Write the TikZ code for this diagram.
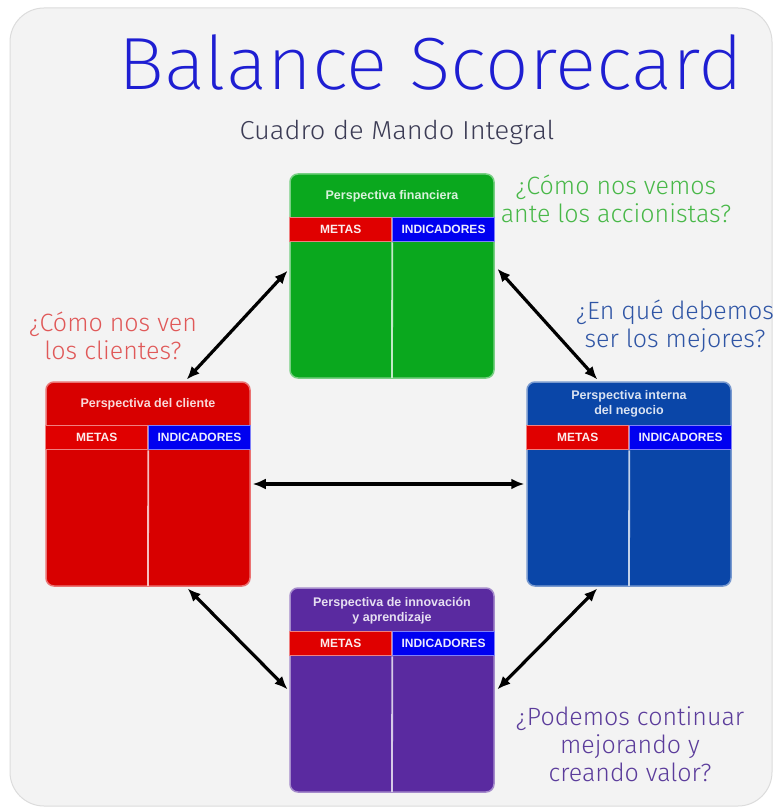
\documentclass[tikz,border=0pt]{standalone}
\usepackage{fontspec}
\setmainfont{Liberation Sans}
\newfontfamily\lightfont{Fira Sans Light}
\newfontfamily\xlightfont{Fira Sans ExtraLight}
\usetikzlibrary{arrows.meta,calc}
\definecolor{bg}{HTML}{F3F3F3}
\definecolor{bgline}{HTML}{DCDCDC}
\definecolor{grn}{HTML}{0AA81E}
\definecolor{red0}{HTML}{D80000}
\definecolor{blu}{HTML}{0A46A8}
\definecolor{pur}{HTML}{5A2AA0}
\definecolor{metas}{HTML}{E00000}
\definecolor{indic}{HTML}{0000F0}
\definecolor{ttl}{HTML}{1E1ED2}
\definecolor{sub}{HTML}{3C3C55}
\definecolor{qgrn}{HTML}{48B848}
\definecolor{qblu}{HTML}{2F55A5}
\definecolor{qred}{HTML}{E05858}
\definecolor{qpur}{HTML}{5B3C9B}
\tikzset{
  pbox/.style={draw=#1!55!white, line width=1.5pt, fill=#1, rounded corners=8pt,
    minimum width=204pt, minimum height=204pt, inner sep=0pt},
  ptitle/.style={text=#1!15!white, font=\bfseries\fontsize{12.5}{15}\selectfont, align=center},
  metasbox/.style={draw=metas!50!white, line width=1pt, fill=metas, text=white!92!metas,
    font=\bfseries\fontsize{12}{12}\selectfont, minimum width=102pt, minimum height=24pt, inner sep=0pt, anchor=north west},
  indicbox/.style={draw=indic!50!white, line width=1pt, fill=indic, text=white!92!indic,
    font=\bfseries\fontsize{12}{12}\selectfont, minimum width=102pt, minimum height=24pt, inner sep=0pt, anchor=north west},
  divider/.style={draw=#1!25!white, line width=1.8pt},
  link/.style={{Latex[length=13pt,width=11pt]}-{Latex[length=13pt,width=11pt]}, line width=3.2pt, black},
  question/.style={font=\lightfont\fontsize{25}{28}\selectfont, align=center, text=#1}
}
\newcommand\scbox[4]{%
  \node[pbox=#3] (#1) at (#2) {};
  \node[ptitle=#3] (#1t) at ($(#1.north)+(0,23)$) {#4};
  \node[metasbox] (#1m) at ($(#1.north west)+(0,44)$) {METAS};
  \node[indicbox] (#1i) at ($(#1.north)+(0,44)$) {INDICADORES};
  \draw[divider=#3] (#1m.south east) -- ($(#1.south)+(0,-1)$);
}
\begin{document}
\begin{tikzpicture}[x=1pt,y=-1pt]
\useasboundingbox (0,0) rectangle (776,810);
\fill[white] (0,0) rectangle (776,810);
\draw[draw=bgline, fill=bg, line width=1pt, rounded corners=34pt] (10,8) rectangle (772,806);

\node[font=\xlightfont\fontsize{74}{80}\selectfont, text=ttl, xscale=1.04] (title) at (431,62) {Balance Scorecard};
\node[font=\lightfont\fontsize{26}{30}\selectfont, text=sub, xscale=1.05] (subtitle) at (397,133) {Cuadro de Mando Integral};

\scbox{fin}{392,276}{grn}{Perspectiva financiera}
\scbox{cli}{148,484}{red0}{Perspectiva del cliente}
\scbox{neg}{629,484}{blu}{Perspectiva interna\\del negocio}
\scbox{inn}{392,690}{pur}{Perspectiva de innovaci\'on\\y aprendizaje}

\node[question=qgrn] (qfin) at (616,199) {¿Cómo nos vemos\\ante los accionistas?};
\node[question=qblu] (qneg) at (675,326) {¿En qué debemos\\ser los mejores?};
\node[question=qred] (qcli) at (113,336) {¿Cómo nos ven\\los clientes?};
\node[question=qpur] (qinn) at (630,744) {¿Podemos continuar\\mejorando y\\creando valor?};

\draw[link, shorten <=1pt, shorten >=1pt] ($(cli.north)+(38,-1)$) -- ($(fin.west)+(-1,-6)$);
\draw[link, shorten <=1pt, shorten >=1pt] ($(fin.east)+(2,-8)$) -- ($(neg.north)+(-31,-1)$);
\draw[link, shorten <=2pt, shorten >=2pt] (cli.east) -- (neg.west);
\draw[link, shorten <=1pt, shorten >=1pt] ($(cli.south)+(39,1)$) -- ($(inn.west)+(-1,0)$);
\draw[link, shorten <=1pt, shorten >=1pt] ($(neg.south)+(-31,1)$) -- ($(inn.east)+(2,0)$);
\end{tikzpicture}
\end{document}
